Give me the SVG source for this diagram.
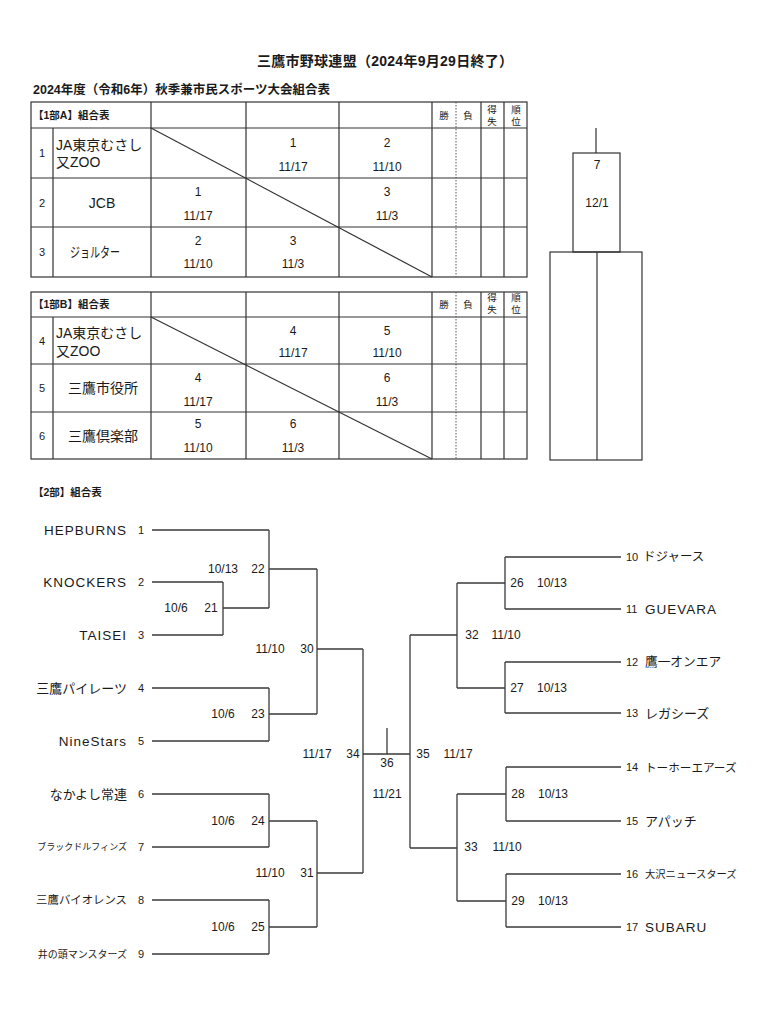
<svg xmlns="http://www.w3.org/2000/svg" width="757" height="1024" viewBox="0 0 757 1024">
<style>
text{font-family:"Liberation Sans","Noto Sans CJK JP",sans-serif;fill:#1a1a1a;dominant-baseline:central}
.t{font-size:14px;font-weight:bold}
.st{font-size:12.5px;font-weight:bold}
.hd{font-size:10.5px;font-weight:bold}
.sm{font-size:9.5px}
.n{font-size:11px;text-anchor:middle}
.c{font-size:12px;text-anchor:middle}
.nm{font-size:14px}
.lt{font-size:13.5px;letter-spacing:1px;text-anchor:end}
.jl{text-anchor:end}
.rn{font-size:11px}
.rl{font-size:13.5px;letter-spacing:1px}
.g{stroke:#333;stroke-width:1.2;fill:none}
.d{stroke:#555;stroke-width:1;stroke-dasharray:1.5 1.5;fill:none}
.ln{stroke:#3a3a3a;stroke-width:1.3;fill:none}
</style>

<g id="titles">
<text class="t" x="257" y="61" textLength="256">三鷹市野球連盟（2024年9月29日終了）</text>
<text class="st" x="33" y="90">2024年度（令和6年）秋季兼市民スポーツ大会組合表</text>
</g>

<g id="tableA">
<rect class="g" x="31" y="102" width="496" height="175"/>
<path class="g" d="M31 128H527M31 178H527M31 227H527M53 128V277M151 102V277M246 102V277M339 102V277M432 102V277M481 102V277M504 102V277"/>
<path class="d" d="M456 102V277"/>
<path class="g" d="M151 128L432 277"/>
<text class="hd" x="33" y="115">【1部A】組合表</text>
<text class="sm" x="444" y="115" text-anchor="middle">勝</text>
<text class="sm" x="468" y="115" text-anchor="middle">負</text>
<text class="sm" x="492" y="109" text-anchor="middle">得</text>
<text class="sm" x="492" y="121" text-anchor="middle">失</text>
<text class="sm" x="516" y="109" text-anchor="middle">順</text>
<text class="sm" x="516" y="121" text-anchor="middle">位</text>
<text class="n" x="42" y="153">1</text>
<text class="nm" x="56" y="145">JA東京むさし</text>
<text class="nm" x="56" y="162">又ZOO</text>
<text class="c" x="293" y="143">1</text><text class="c" x="293" y="167">11/17</text>
<text class="c" x="387" y="143">2</text><text class="c" x="387" y="167">11/10</text>
<text class="n" x="42" y="203">2</text>
<text class="nm" x="102" y="203" text-anchor="middle">JCB</text>
<text class="c" x="198" y="192">1</text><text class="c" x="198" y="216">11/17</text>
<text class="c" x="387" y="192">3</text><text class="c" x="387" y="216">11/3</text>
<text class="n" x="42" y="252">3</text>
<text class="nm" x="70" y="252" textLength="50" lengthAdjust="spacingAndGlyphs">ジョルター</text>
<text class="c" x="198" y="241">2</text><text class="c" x="198" y="264">11/10</text>
<text class="c" x="293" y="241">3</text><text class="c" x="293" y="264">11/3</text>
</g>

<g id="tableB">
<rect class="g" x="31" y="292" width="496" height="167"/>
<path class="g" d="M31 317H527M31 364H527M31 412H527M53 317V459M151 292V459M246 292V459M339 292V459M432 292V459M481 292V459M504 292V459"/>
<path class="d" d="M456 292V459"/>
<path class="g" d="M151 317L432 459"/>
<text class="hd" x="33" y="304">【1部B】組合表</text>
<text class="sm" x="444" y="304" text-anchor="middle">勝</text>
<text class="sm" x="468" y="304" text-anchor="middle">負</text>
<text class="sm" x="492" y="297" text-anchor="middle">得</text>
<text class="sm" x="492" y="309" text-anchor="middle">失</text>
<text class="sm" x="516" y="297" text-anchor="middle">順</text>
<text class="sm" x="516" y="309" text-anchor="middle">位</text>
<text class="n" x="42" y="341">4</text>
<text class="nm" x="56" y="333">JA東京むさし</text>
<text class="nm" x="56" y="351">又ZOO</text>
<text class="c" x="293" y="331">4</text><text class="c" x="293" y="353">11/17</text>
<text class="c" x="387" y="331">5</text><text class="c" x="387" y="353">11/10</text>
<text class="n" x="42" y="388">5</text>
<text class="nm" x="103" y="388" text-anchor="middle">三鷹市役所</text>
<text class="c" x="198" y="378">4</text><text class="c" x="198" y="402">11/17</text>
<text class="c" x="387" y="378">6</text><text class="c" x="387" y="402">11/3</text>
<text class="n" x="42" y="436">6</text>
<text class="nm" x="103" y="436" text-anchor="middle">三鷹倶楽部</text>
<text class="c" x="198" y="424">5</text><text class="c" x="198" y="448">11/10</text>
<text class="c" x="293" y="424">6</text><text class="c" x="293" y="448">11/3</text>
</g>

<g id="final1">
<path class="g" d="M596 128V153"/>
<rect class="g" x="573" y="153" width="47" height="99"/>
<rect class="g" x="550" y="252" width="92" height="208"/>
<path class="g" d="M597 252V460"/>
<text class="c" x="597" y="165">7</text>
<text class="c" x="597" y="203">12/1</text>
</g>

<g id="section2"><text class="hd" x="33" y="492">【2部】組合表</text></g>

<g id="connectors">
<path class="ln" d="M152 530H269M152 582H223M152 635H223M223 582V635M223 608H269M269 530V608M269 569H317"/>
<path class="ln" d="M152 688H269M152 741H269M269 688V741M269 714H317M317 569V714M317 649H363"/>
<path class="ln" d="M152 794H269M152 847H269M269 794V847M269 821H317M152 900H269M152 954H269M269 900V954M269 927H317M317 821V927M317 873H363"/>
<path class="ln" d="M363 649V873M363 754H410M387 728V754M410 635V848M410 635H457M410 848H457"/>
<path class="ln" d="M457 583V688M457 583H505M457 688H505M505 557V609M505 557H621M505 609H621M505 662V713M505 662H621M505 713H621"/>
<path class="ln" d="M457 794V901M457 794H506M457 901H506M506 767V821M506 767H621M506 821H621M506 874V927M506 874H621M506 927H621"/>
</g>

<g id="team1"><text class="lt" x="127" y="530">HEPBURNS</text><text class="n" x="141" y="530">1</text></g>
<g id="team2"><text class="lt" x="127" y="582">KNOCKERS</text><text class="n" x="141" y="582">2</text></g>
<g id="team3"><text class="lt" x="127" y="635">TAISEI</text><text class="n" x="141" y="635">3</text></g>
<g id="team4"><text class="jl" x="127" y="688" style="font-size:13px">三鷹パイレーツ</text><text class="n" x="141" y="688">4</text></g>
<g id="team5"><text class="lt" x="127" y="741">NineStars</text><text class="n" x="141" y="741">5</text></g>
<g id="team6"><text class="jl" x="127" y="794" style="font-size:13px">なかよし常連</text><text class="n" x="141" y="794">6</text></g>
<g id="team7"><text class="jl" x="127" y="847" style="font-size:9px">ブラックドルフィンズ</text><text class="n" x="141" y="847">7</text></g>
<g id="team8"><text class="jl" x="127" y="900" style="font-size:11.4px">三鷹バイオレンス</text><text class="n" x="141" y="900">8</text></g>
<g id="team9"><text class="jl" x="127" y="954" style="font-size:10px">井の頭マンスターズ</text><text class="n" x="141" y="954">9</text></g>

<g id="team10"><text class="rn" x="626" y="557">10</text><text x="643" y="557" style="font-size:12.5px">ドジャース</text></g>
<g id="team11"><text class="rn" x="626" y="609">11</text><text class="rl" x="645" y="609">GUEVARA</text></g>
<g id="team12"><text class="rn" x="626" y="662">12</text><text x="645" y="662" style="font-size:12.7px">鷹一オンエア</text></g>
<g id="team13"><text class="rn" x="626" y="713">13</text><text x="645" y="713" style="font-size:13px">レガシーズ</text></g>
<g id="team14"><text class="rn" x="626" y="767">14</text><text x="645" y="767" style="font-size:11.6px">トーホーエアーズ</text></g>
<g id="team15"><text class="rn" x="626" y="821">15</text><text x="645" y="821" style="font-size:13px">アパッチ</text></g>
<g id="team16"><text class="rn" x="626" y="874">16</text><text x="645" y="874" style="font-size:10.3px">大沢ニュースターズ</text></g>
<g id="team17"><text class="rn" x="626" y="927">17</text><text class="rl" x="645" y="927">SUBARU</text></g>

<g id="m21"><text class="c" x="176" y="608">10/6</text><text class="c" x="211" y="608">21</text></g>
<g id="m22"><text class="c" x="223" y="569">10/13</text><text class="c" x="258" y="569">22</text></g>
<g id="m23"><text class="c" x="223" y="714">10/6</text><text class="c" x="258" y="714">23</text></g>
<g id="m24"><text class="c" x="223" y="821">10/6</text><text class="c" x="258" y="821">24</text></g>
<g id="m25"><text class="c" x="223" y="927">10/6</text><text class="c" x="258" y="927">25</text></g>
<g id="m30"><text class="c" x="270" y="649">11/10</text><text class="c" x="307" y="649">30</text></g>
<g id="m31"><text class="c" x="270" y="873">11/10</text><text class="c" x="307" y="873">31</text></g>
<g id="m34"><text class="c" x="317" y="754">11/17</text><text class="c" x="353" y="754">34</text></g>
<g id="m36"><text class="c" x="387" y="763">36</text><text class="c" x="387" y="794">11/21</text></g>
<g id="m35"><text class="c" x="423" y="754">35</text><text class="c" x="458" y="754">11/17</text></g>
<g id="m32"><text class="c" x="472" y="635">32</text><text class="c" x="506" y="635">11/10</text></g>
<g id="m33"><text class="c" x="471" y="847">33</text><text class="c" x="507" y="847">11/10</text></g>
<g id="m26"><text class="c" x="517" y="583">26</text><text class="c" x="552" y="583">10/13</text></g>
<g id="m27"><text class="c" x="517" y="688">27</text><text class="c" x="552" y="688">10/13</text></g>
<g id="m28"><text class="c" x="518" y="794">28</text><text class="c" x="553" y="794">10/13</text></g>
<g id="m29"><text class="c" x="518" y="901">29</text><text class="c" x="553" y="901">10/13</text></g>
</svg>
